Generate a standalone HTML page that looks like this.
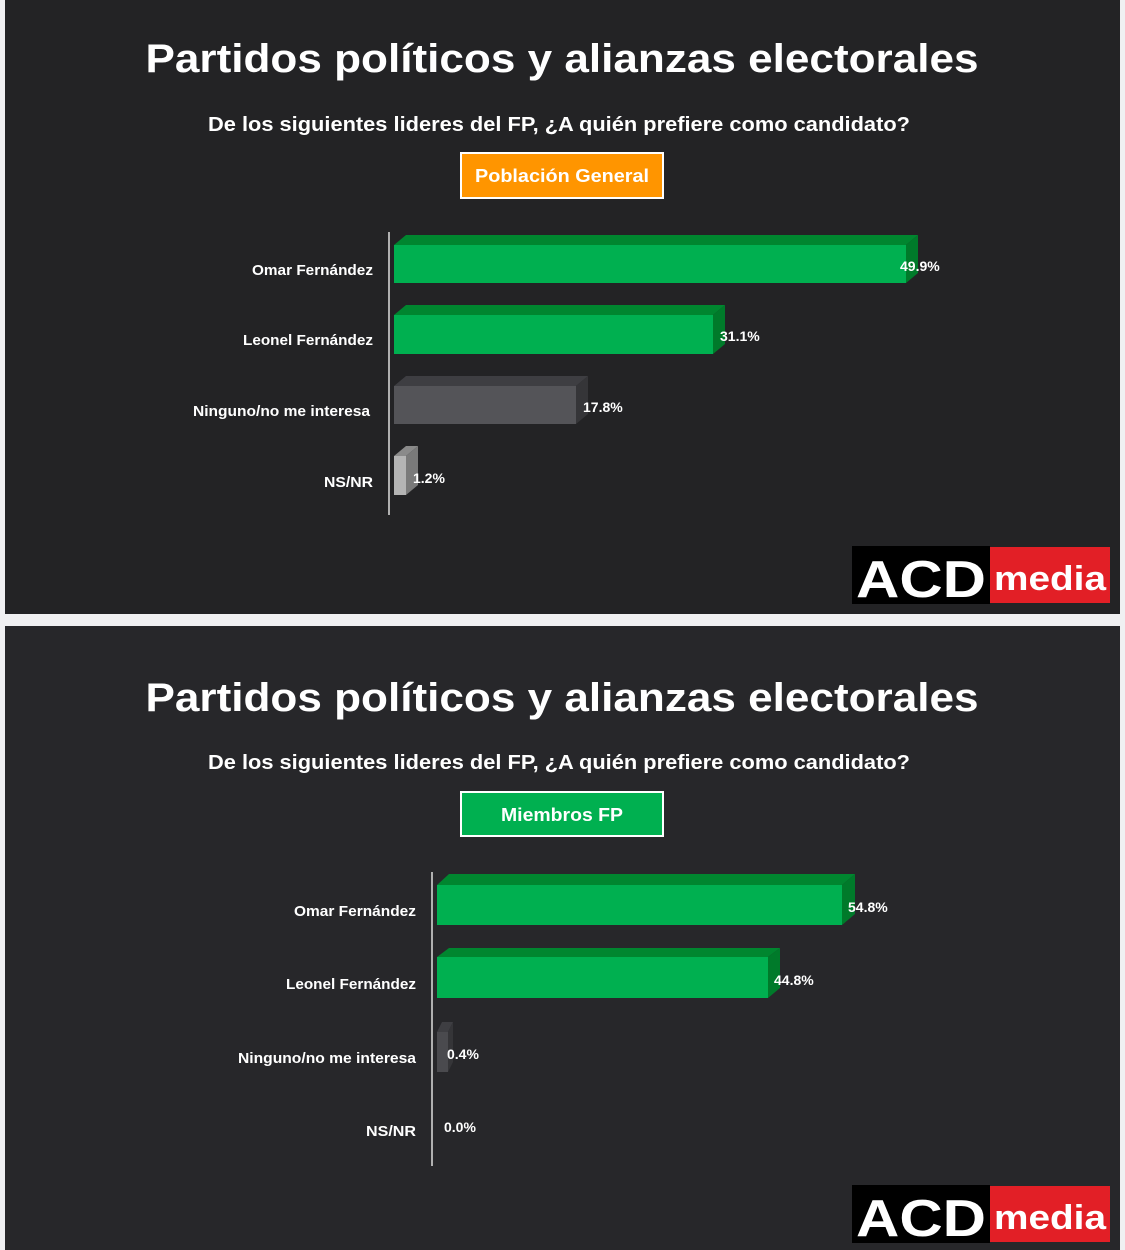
<!DOCTYPE html>
<html><head><meta charset="utf-8"><style>
html,body{margin:0;padding:0;background:#f0f0f2;}
svg{display:block}
text{font-family:"Liberation Sans","DejaVu Sans",sans-serif;font-weight:bold;fill:#fff}
</style></head><body>
<svg width="1125" height="1250" viewBox="0 0 1125 1250">
<rect x="0" y="0" width="1125" height="1250" fill="#f0f0f2"/>
<!-- TOP PANEL -->
<rect x="5" y="0" width="1115" height="614" fill="#232325"/>
<text x="562" y="72" font-size="40" text-anchor="middle" textLength="833" lengthAdjust="spacingAndGlyphs">Partidos políticos y alianzas electorales</text>
<text x="559" y="131" font-size="20" text-anchor="middle" textLength="702" lengthAdjust="spacingAndGlyphs">De los siguientes lideres del FP, ¿A quién prefiere como candidato?</text>
<rect x="461" y="153" width="202" height="45" fill="#ff9500" stroke="#fff" stroke-width="2"/>
<text x="562" y="182" font-size="18" text-anchor="middle" textLength="174" lengthAdjust="spacingAndGlyphs">Población General</text>
<line x1="389" y1="232" x2="389" y2="515" stroke="#b0b0b0" stroke-width="2"/>
<polygon points="394,245 406,235 918,235 906,245" fill="#00862f"/>
<polygon points="906,245 918,235 918,273 906,283" fill="#007a2a"/>
<rect x="394" y="245" width="512" height="38" fill="#00b050"/>
<text x="900" y="271" font-size="14">49.9%</text>
<polygon points="394,315 406,305 725,305 713,315" fill="#00862f"/>
<polygon points="713,315 725,305 725,344 713,354" fill="#007a2a"/>
<rect x="394" y="315" width="319" height="39" fill="#00b050"/>
<text x="720" y="341" font-size="14">31.1%</text>
<polygon points="394,386 406,376 588,376 576,386" fill="#3e3e42"/>
<polygon points="576,386 588,376 588,414 576,424" fill="#353538"/>
<rect x="394" y="386" width="182" height="38" fill="#545458"/>
<text x="583" y="412" font-size="14">17.8%</text>
<polygon points="394,456 406,446 418,446 406,456" fill="#8a8a8a"/>
<polygon points="406,456 418,446 418,485 406,495" fill="#7a7a7a"/>
<rect x="394" y="456" width="12" height="39" fill="#b4b4b4"/>
<text x="413" y="483" font-size="14">1.2%</text>
<g font-size="15" text-anchor="end">
<text x="373" y="275" textLength="121" lengthAdjust="spacingAndGlyphs">Omar Fernández</text>
<text x="373" y="345" textLength="130" lengthAdjust="spacingAndGlyphs">Leonel Fernández</text>
<text x="370" y="416" textLength="177" lengthAdjust="spacingAndGlyphs">Ninguno/no me interesa</text>
<text x="373" y="487" textLength="49" lengthAdjust="spacingAndGlyphs">NS/NR</text>
</g>
<rect x="852" y="546" width="138" height="58" fill="#000"/>
<rect x="990" y="547" width="120" height="56" fill="#e21f26"/>
<text x="921" y="597" font-size="52" text-anchor="middle" textLength="130" lengthAdjust="spacingAndGlyphs">ACD</text>
<text x="1050" y="590" font-size="34" text-anchor="middle" textLength="112" lengthAdjust="spacingAndGlyphs">media</text>
<!-- BOTTOM PANEL -->
<rect x="5" y="626" width="1115" height="624" fill="#27272a"/>
<text x="562" y="711" font-size="40" text-anchor="middle" textLength="833" lengthAdjust="spacingAndGlyphs">Partidos políticos y alianzas electorales</text>
<text x="559" y="769" font-size="20" text-anchor="middle" textLength="702" lengthAdjust="spacingAndGlyphs">De los siguientes lideres del FP, ¿A quién prefiere como candidato?</text>
<rect x="461" y="792" width="202" height="44" fill="#00b050" stroke="#fff" stroke-width="2"/>
<text x="562" y="821" font-size="18" text-anchor="middle" textLength="122" lengthAdjust="spacingAndGlyphs">Miembros FP</text>
<line x1="432" y1="872" x2="432" y2="1166" stroke="#b0b0b0" stroke-width="2"/>
<polygon points="437,885 449,874 855,874 842,885" fill="#00862f"/>
<polygon points="842,885 855,874 855,914 842,925" fill="#007a2a"/>
<rect x="437" y="885" width="405" height="40" fill="#00b050"/>
<text x="848" y="912" font-size="14">54.8%</text>
<polygon points="437,957 449,948 780,948 768,957" fill="#00862f"/>
<polygon points="768,957 780,948 780,988 768,998" fill="#007a2a"/>
<rect x="437" y="957" width="331" height="41" fill="#00b050"/>
<text x="774" y="985" font-size="14">44.8%</text>
<polygon points="437,1032 442,1022 453,1022 448,1032" fill="#3e3e42"/>
<polygon points="448,1032 453,1022 453,1062 448,1072" fill="#353538"/>
<rect x="437" y="1032" width="11" height="40" fill="#4a4a4e"/>
<text x="447" y="1059" font-size="14">0.4%</text>
<text x="444" y="1132" font-size="14">0.0%</text>
<g font-size="15" text-anchor="end">
<text x="416" y="916" textLength="122" lengthAdjust="spacingAndGlyphs">Omar Fernández</text>
<text x="416" y="989" textLength="130" lengthAdjust="spacingAndGlyphs">Leonel Fernández</text>
<text x="416" y="1063" textLength="178" lengthAdjust="spacingAndGlyphs">Ninguno/no me interesa</text>
<text x="416" y="1136" textLength="50" lengthAdjust="spacingAndGlyphs">NS/NR</text>
</g>
<rect x="852" y="1185" width="138" height="58" fill="#000"/>
<rect x="990" y="1186" width="120" height="56" fill="#e21f26"/>
<text x="921" y="1236" font-size="52" text-anchor="middle" textLength="130" lengthAdjust="spacingAndGlyphs">ACD</text>
<text x="1050" y="1229" font-size="34" text-anchor="middle" textLength="112" lengthAdjust="spacingAndGlyphs">media</text>
</svg>
</body></html>
